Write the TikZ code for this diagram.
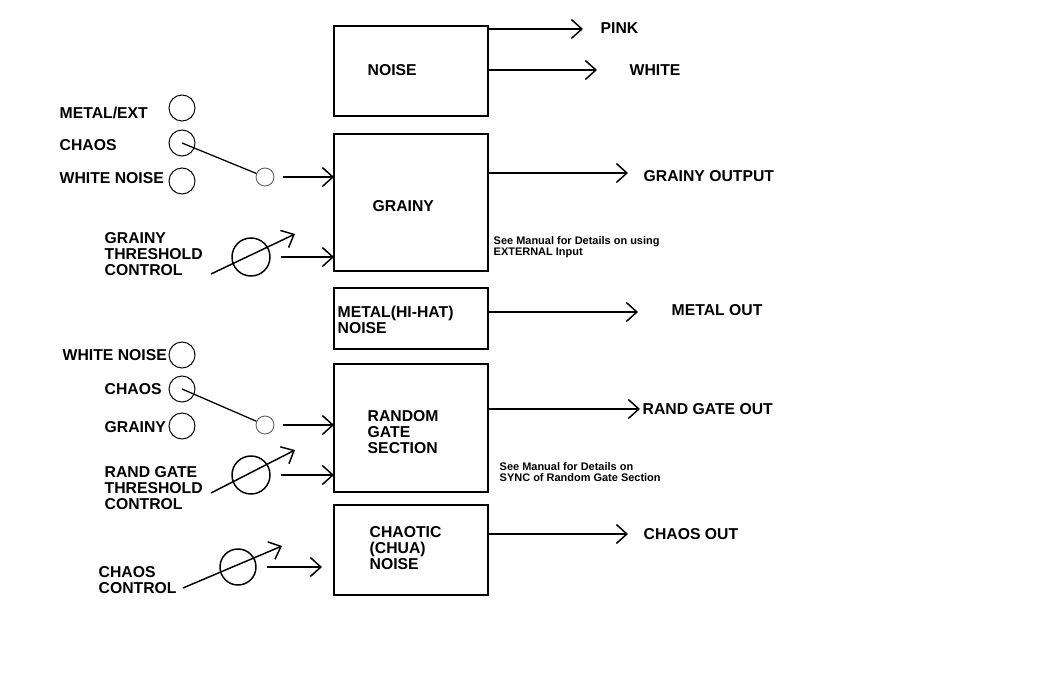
\documentclass[tikz,border=0pt]{standalone}
\usepackage{fontspec}
\setmainfont{Liberation Sans}
\usetikzlibrary{arrows.meta}
\begin{document}
\begin{tikzpicture}[x=0.025cm, y=-0.025cm, line width=1.05pt, >={Straight Barb[length=7.5pt,width=13.5pt]},
        block/.style={draw, rectangle, minimum width=3.85cm, inner sep=0pt, outer sep=0pt},
        lbl/.style={anchor=west, align=left, inner sep=0pt, font=\bfseries\fontsize{11.2}{11.4}\selectfont},
        note/.style={anchor=west, align=left, inner sep=0pt, font=\bfseries\fontsize{7.8}{7.9}\selectfont},
        jack/.style={circle, draw, line width=0.7pt, minimum size=0.65cm, inner sep=0pt},
        sw/.style={circle, draw, gray!70!black, line width=0.6pt, minimum size=0.45cm, inner sep=0pt},
        knob/.style={circle, draw, minimum size=0.95cm, inner sep=0pt}]

                \useasboundingbox (0, 0) rectangle (1048, 696);

                \node[block, minimum height=2.25cm] at (411, 71) (noise) {};
                \node[block, minimum height=3.425cm] at (411, 202.5) (grainy) {};
                \node[block, minimum height=1.525cm] at (411, 318.5) (metal) {};
                \node[block, minimum height=3.2cm] at (411, 428) (rgate) {};
                \node[block, minimum height=2.25cm] at (411, 550) (chua) {};

                \node[lbl] at (367, 70) (noiset) {NOISE};
                \node[lbl] at (372, 206) (grainyt) {GRAINY};
                \node[lbl] at (337, 320) (metalt) {METAL(HI-HAT)\\NOISE};
                \node[lbl] at (367, 432) (rgatet) {RANDOM\\GATE\\SECTION};
                \node[lbl] at (369, 548) (chuat) {CHAOTIC\\(CHUA)\\NOISE};

                \node[lbl] at (600, 28) (pink) {PINK};
                \node[lbl] at (629, 70) (white) {WHITE};
                \node[lbl] at (643, 176) (gout) {GRAINY OUTPUT};
                \node[lbl] at (671, 310) (mout) {METAL OUT};
                \node[lbl] at (642, 409) (rout) {RAND GATE OUT};
                \node[lbl] at (643, 534) (cout) {CHAOS OUT};

                \coordinate (pinktip) at (583, 29);
                \coordinate (whitetip) at (597, 70);
                \coordinate (gouttip) at (628, 173);
                \coordinate (mouttip) at (638, 312);
                \coordinate (routtip) at (640, 409);
                \coordinate (couttip) at (628, 534);

                \path[->] (noise.east |- pinktip) edge (pinktip);
                \path[->] (noise.east |- whitetip) edge (whitetip);
                \path[->] (grainy.east |- gouttip) edge (gouttip);
                \path[->] (metal.east |- mouttip) edge (mouttip);
                \path[->] (rgate.east |- routtip) edge (routtip);
                \path[->] (chua.east |- couttip) edge (couttip);

                \node[note] at (493, 247) (gnote) {See Manual for Details on using\\EXTERNAL Input};
                \node[note] at (499, 472) (rnote) {See Manual for Details on\\SYNC of Random Gate Section};

                \node[lbl] at (59, 113) (metext) {METAL/EXT};
                \node[lbl] at (59, 145) (gchaos) {CHAOS};
                \node[lbl] at (59, 178) (gwhite) {WHITE NOISE};
                \node[jack] at (182, 108) (jmetext) {};
                \node[jack] at (182, 143) (jgchaos) {};
                \node[jack] at (182, 181) (jgwhite) {};
                \node[sw] at (265, 177) (gsw) {};
                \draw[line width=0.9pt] (jgchaos.center) -- (gsw);
                \path[->] (gsw.east) edge[shorten <=6pt] (grainy.west |- gsw);

                \node[lbl] at (104, 254) (gthr) {GRAINY\\THRESHOLD\\CONTROL};
                \node[knob] at (251, 257) (gknob) {};
                \coordinate (gkin) at (211, 274);
                \coordinate (gkout) at (295, 234);
                \path[->] (gkin) edge (gkout);
                \path[->] (gknob.east) edge[shorten <=7pt] (grainy.west |- gknob);

                \node[lbl] at (62, 355) (rwhite) {WHITE NOISE};
                \node[lbl] at (104, 389) (rchaos) {CHAOS};
                \node[lbl] at (104, 427) (rgrainy) {GRAINY};
                \node[jack] at (182, 355) (jrwhite) {};
                \node[jack] at (182, 389) (jrchaos) {};
                \node[jack] at (182, 426) (jrgrainy) {};
                \node[sw] at (265, 425) (rsw) {};
                \draw[line width=0.9pt] (jrchaos.center) -- (rsw);
                \path[->] (rsw.east) edge[shorten <=6pt] (rgate.west |- rsw);

                \node[lbl] at (104, 488) (rthr) {RAND GATE\\THRESHOLD\\CONTROL};
                \node[knob] at (251, 475) (rknob) {};
                \coordinate (rkin) at (211, 493);
                \coordinate (rkout) at (295, 450);
                \path[->] (rkin) edge (rkout);
                \path[->] (rknob.east) edge[shorten <=7pt] (rgate.west |- rknob);

                \node[lbl] at (98, 580) (cthr) {CHAOS\\CONTROL};
                \node[knob, minimum size=0.9cm] at (238, 567) (cknob) {};
                \coordinate (ckin) at (183, 588);
                \coordinate (ckout) at (282, 546);
                \coordinate (cktip) at (322, 567);
                \path[->] (ckin) edge (ckout);
                \path[->] (cknob.east) edge[shorten <=7pt] (cktip);
            \end{tikzpicture}
\end{document}
